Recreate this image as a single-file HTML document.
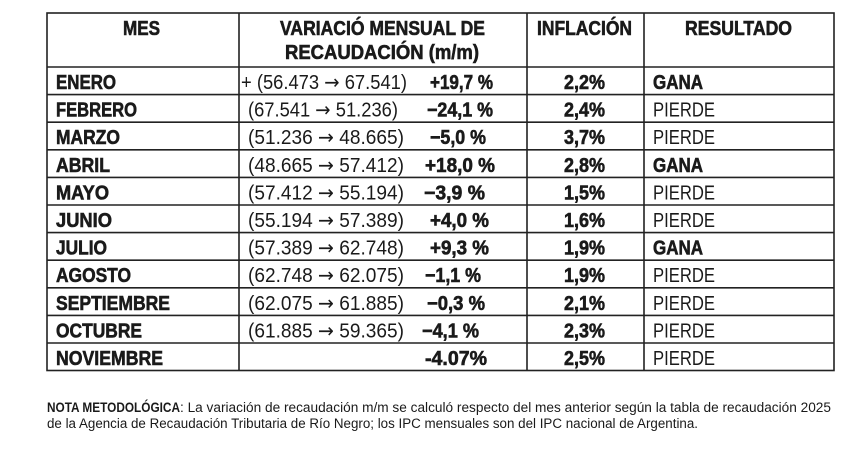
<!DOCTYPE html>
<html><head><meta charset="utf-8"><style>
html,body{margin:0;padding:0;background:#fff;width:862px;height:451px;overflow:hidden}
svg{display:block}
text{font-family:"Liberation Sans Narrow","Liberation Sans",sans-serif;fill:#1a1a1a}
.a{font-family:"DejaVu Sans",sans-serif}
.h{stroke:#1a1a1a;stroke-width:0.6}
</style></head><body>
<svg width="862" height="451" viewBox="0 0 862 451" xmlns="http://www.w3.org/2000/svg">
<g stroke="#222" stroke-width="1.6" fill="none">
<rect x="47" y="13" width="787" height="357.5"/>
<line x1="239" y1="13" x2="239" y2="370.5"/>
<line x1="527" y1="13" x2="527" y2="370.5"/>
<line x1="644" y1="13" x2="644" y2="370.5"/>
<line x1="47" y1="67" x2="834" y2="67"/>
<line x1="47" y1="94.6" x2="834" y2="94.6"/>
<line x1="47" y1="122.2" x2="834" y2="122.2"/>
<line x1="47" y1="149.8" x2="834" y2="149.8"/>
<line x1="47" y1="177.4" x2="834" y2="177.4"/>
<line x1="47" y1="205" x2="834" y2="205"/>
<line x1="47" y1="232.6" x2="834" y2="232.6"/>
<line x1="47" y1="260.2" x2="834" y2="260.2"/>
<line x1="47" y1="287.8" x2="834" y2="287.8"/>
<line x1="47" y1="315.4" x2="834" y2="315.4"/>
<line x1="47" y1="343" x2="834" y2="343"/>
</g>
<g font-size="20" font-weight="bold" class="h">
<text x="123" y="35" textLength="37" lengthAdjust="spacingAndGlyphs" font-weight="bold" class="h">MES</text>
<text x="280" y="35" textLength="205" lengthAdjust="spacingAndGlyphs" font-weight="bold" class="h">VARIACIÓ MENSUAL DE</text>
<text x="285" y="59" textLength="194" lengthAdjust="spacingAndGlyphs" font-weight="bold" class="h">RECAUDACIÓN (m/m)</text>
<text x="537" y="35" textLength="95" lengthAdjust="spacingAndGlyphs" font-weight="bold" class="h">INFLACIÓN</text>
<text x="685" y="35" textLength="107" lengthAdjust="spacingAndGlyphs" font-weight="bold" class="h">RESULTADO</text>
</g>
<g font-size="20" font-weight="bold">
<text x="56" y="89" font-weight="bold" class="h" textLength="60" lengthAdjust="spacingAndGlyphs">ENERO</text>
<text x="56" y="116.6" font-weight="bold" class="h" textLength="81" lengthAdjust="spacingAndGlyphs">FEBRERO</text>
<text x="56" y="144.2" font-weight="bold" class="h" textLength="64" lengthAdjust="spacingAndGlyphs">MARZO</text>
<text x="56" y="171.8" font-weight="bold" class="h" textLength="54" lengthAdjust="spacingAndGlyphs">ABRIL</text>
<text x="56" y="199.4" font-weight="bold" class="h" textLength="53" lengthAdjust="spacingAndGlyphs">MAYO</text>
<text x="56" y="227" font-weight="bold" class="h" textLength="56" lengthAdjust="spacingAndGlyphs">JUNIO</text>
<text x="56" y="254.6" font-weight="bold" class="h" textLength="51" lengthAdjust="spacingAndGlyphs">JULIO</text>
<text x="56" y="282.2" font-weight="bold" class="h" textLength="75" lengthAdjust="spacingAndGlyphs">AGOSTO</text>
<text x="56" y="309.8" font-weight="bold" class="h" textLength="114" lengthAdjust="spacingAndGlyphs">SEPTIEMBRE</text>
<text x="56" y="337.4" font-weight="bold" class="h" textLength="86" lengthAdjust="spacingAndGlyphs">OCTUBRE</text>
<text x="56" y="365" font-weight="bold" class="h" textLength="107" lengthAdjust="spacingAndGlyphs">NOVIEMBRE</text>
</g>
<g font-size="20">
<text x="241" y="89" textLength="166" lengthAdjust="spacingAndGlyphs">+ (56.473 <tspan class="a">→</tspan> 67.541)</text>
<text x="248" y="116.6" textLength="150" lengthAdjust="spacingAndGlyphs">(67.541 <tspan class="a">→</tspan> 51.236)</text>
<text x="248" y="144.2" textLength="156" lengthAdjust="spacingAndGlyphs">(51.236 <tspan class="a">→</tspan> 48.665)</text>
<text x="248" y="171.8" textLength="156" lengthAdjust="spacingAndGlyphs">(48.665 <tspan class="a">→</tspan> 57.412)</text>
<text x="248" y="199.4" textLength="156" lengthAdjust="spacingAndGlyphs">(57.412 <tspan class="a">→</tspan> 55.194)</text>
<text x="248" y="227" textLength="156" lengthAdjust="spacingAndGlyphs">(55.194 <tspan class="a">→</tspan> 57.389)</text>
<text x="248" y="254.6" textLength="156" lengthAdjust="spacingAndGlyphs">(57.389 <tspan class="a">→</tspan> 62.748)</text>
<text x="248" y="282.2" textLength="156" lengthAdjust="spacingAndGlyphs">(62.748 <tspan class="a">→</tspan> 62.075)</text>
<text x="248" y="309.8" textLength="156" lengthAdjust="spacingAndGlyphs">(62.075 <tspan class="a">→</tspan> 61.885)</text>
<text x="248" y="337.4" textLength="156" lengthAdjust="spacingAndGlyphs">(61.885 <tspan class="a">→</tspan> 59.365)</text>
</g>
<g font-size="20" font-weight="bold">
<text x="430" y="89" textLength="63" lengthAdjust="spacingAndGlyphs" font-weight="bold" class="h">+19,7 %</text>
<text x="427" y="116.6" textLength="66" lengthAdjust="spacingAndGlyphs" font-weight="bold" class="h">−24,1 %</text>
<text x="430" y="144.2" textLength="56" lengthAdjust="spacingAndGlyphs" font-weight="bold" class="h">−5,0 %</text>
<text x="425" y="171.8" textLength="70" lengthAdjust="spacingAndGlyphs" font-weight="bold" class="h">+18,0 %</text>
<text x="424" y="199.4" textLength="61" lengthAdjust="spacingAndGlyphs" font-weight="bold" class="h">−3,9 %</text>
<text x="430" y="227" textLength="59" lengthAdjust="spacingAndGlyphs" font-weight="bold" class="h">+4,0 %</text>
<text x="430" y="254.6" textLength="59" lengthAdjust="spacingAndGlyphs" font-weight="bold" class="h">+9,3 %</text>
<text x="425" y="282.2" textLength="56" lengthAdjust="spacingAndGlyphs" font-weight="bold" class="h">−1,1 %</text>
<text x="427" y="309.8" textLength="58" lengthAdjust="spacingAndGlyphs" font-weight="bold" class="h">−0,3 %</text>
<text x="422" y="337.4" textLength="57" lengthAdjust="spacingAndGlyphs" font-weight="bold" class="h">−4,1 %</text>
<text x="425" y="365" textLength="62" lengthAdjust="spacingAndGlyphs" font-weight="bold" class="h">-4.07%</text>
</g>
<g font-size="20" font-weight="bold">
<text x="564" y="89" font-weight="bold" class="h" textLength="41" lengthAdjust="spacingAndGlyphs">2,2%</text>
<text x="564" y="116.6" font-weight="bold" class="h" textLength="41" lengthAdjust="spacingAndGlyphs">2,4%</text>
<text x="564" y="144.2" font-weight="bold" class="h" textLength="41" lengthAdjust="spacingAndGlyphs">3,7%</text>
<text x="564" y="171.8" font-weight="bold" class="h" textLength="41" lengthAdjust="spacingAndGlyphs">2,8%</text>
<text x="564" y="199.4" font-weight="bold" class="h" textLength="41" lengthAdjust="spacingAndGlyphs">1,5%</text>
<text x="564" y="227" font-weight="bold" class="h" textLength="41" lengthAdjust="spacingAndGlyphs">1,6%</text>
<text x="564" y="254.6" font-weight="bold" class="h" textLength="41" lengthAdjust="spacingAndGlyphs">1,9%</text>
<text x="564" y="282.2" font-weight="bold" class="h" textLength="41" lengthAdjust="spacingAndGlyphs">1,9%</text>
<text x="564" y="309.8" font-weight="bold" class="h" textLength="41" lengthAdjust="spacingAndGlyphs">2,1%</text>
<text x="564" y="337.4" font-weight="bold" class="h" textLength="41" lengthAdjust="spacingAndGlyphs">2,3%</text>
<text x="564" y="365" font-weight="bold" class="h" textLength="41" lengthAdjust="spacingAndGlyphs">2,5%</text>
</g>
<g font-size="20">
<text x="653" y="89" font-weight="bold" class="h" textLength="50" lengthAdjust="spacingAndGlyphs">GANA</text>
<text x="653" y="116.6" textLength="62" lengthAdjust="spacingAndGlyphs">PIERDE</text>
<text x="653" y="144.2" textLength="62" lengthAdjust="spacingAndGlyphs">PIERDE</text>
<text x="653" y="171.8" font-weight="bold" class="h" textLength="50" lengthAdjust="spacingAndGlyphs">GANA</text>
<text x="653" y="199.4" textLength="62" lengthAdjust="spacingAndGlyphs">PIERDE</text>
<text x="653" y="227" textLength="62" lengthAdjust="spacingAndGlyphs">PIERDE</text>
<text x="653" y="254.6" font-weight="bold" class="h" textLength="50" lengthAdjust="spacingAndGlyphs">GANA</text>
<text x="653" y="282.2" textLength="62" lengthAdjust="spacingAndGlyphs">PIERDE</text>
<text x="653" y="309.8" textLength="62" lengthAdjust="spacingAndGlyphs">PIERDE</text>
<text x="653" y="337.4" textLength="62" lengthAdjust="spacingAndGlyphs">PIERDE</text>
<text x="653" y="365" textLength="62" lengthAdjust="spacingAndGlyphs">PIERDE</text>
</g>
<g font-size="13.5">
<text x="47" y="412" textLength="133" lengthAdjust="spacingAndGlyphs" font-weight="bold">NOTA METODOLÓGICA</text>
<text x="180" y="412" textLength="651" lengthAdjust="spacingAndGlyphs">: La variación de recaudación m/m se calculó respecto del mes anterior según la tabla de recaudación 2025</text>
<text x="47" y="428" textLength="651" lengthAdjust="spacingAndGlyphs">de la Agencia de Recaudación Tributaria de Río Negro; los IPC mensuales son del IPC nacional de Argentina.</text>
</g>
</svg>
</body></html>
